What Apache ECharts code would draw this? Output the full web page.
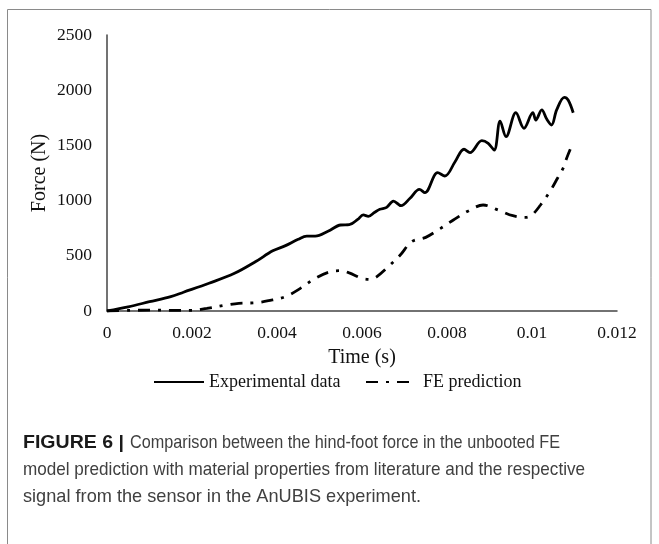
<!DOCTYPE html>
<html>
<head>
<meta charset="utf-8">
<script src="https://cdn.jsdelivr.net/npm/echarts@6/dist/echarts.min.js"></script>
<style>
html,body{margin:0;padding:0;background:#fff;}
#chart{width:659px;height:544px;}
</style>
</head>
<body>
<div id="chart"></div>
<script>
// Experimental data (solid)
var expTime = [0, 0.0005, 0.001, 0.0015, 0.0018, 0.0024, 0.003, 0.0035, 0.0039, 0.0042, 0.0045, 0.0047, 0.0049, 0.0052, 0.0055, 0.0057, 0.0059, 0.00603, 0.00615, 0.0063, 0.00642, 0.00658, 0.00674, 0.00692, 0.00713, 0.00735, 0.00748, 0.00778, 0.00795, 0.00819, 0.0084, 0.00854, 0.00882, 0.00897, 0.00911, 0.00925, 0.00939, 0.00962, 0.00981, 0.01002, 0.01009, 0.01023, 0.01035, 0.01046, 0.01058, 0.01076, 0.01085, 0.01097];
var expForce = [0, 38, 84, 130, 170, 251, 341, 448, 545, 592, 650, 679, 679, 722, 779, 782, 830, 870, 858, 895, 921, 939, 996, 954, 1021, 1102, 1072, 1253, 1223, 1352, 1465, 1434, 1543, 1519, 1458, 1720, 1579, 1796, 1655, 1796, 1730, 1821, 1736, 1685, 1821, 1935, 1911, 1796];
// FE prediction (dash-dot)
var feTime = [0, 0.0005, 0.001, 0.0015, 0.002, 0.00235, 0.0028, 0.0031, 0.0035, 0.0038, 0.0042, 0.00455, 0.0049, 0.00525, 0.0055, 0.0057, 0.006, 0.0062, 0.00635, 0.00666, 0.0069, 0.00717, 0.0075, 0.00785, 0.00815, 0.0085, 0.00885, 0.0092, 0.00955, 0.00985, 0.01, 0.0102, 0.01042, 0.0106, 0.01075, 0.0108, 0.0109];
var feForce = [0, 5, 8, 6, 5, 24, 54, 70, 75, 93, 130, 205, 296, 356, 365, 345, 296, 287, 311, 417, 507, 628, 667, 749, 824, 906, 960, 915, 863, 848, 870, 960, 1081, 1202, 1307, 1368, 1465];
var seriesNames = ['Experimental data', 'FE prediction'];
var captionLabel = 'FIGURE 6 |';
var captionLines = [
  'Comparison between the hind-foot force in the unbooted FE',
  'model prediction with material properties from literature and the respective',
  'signal from the sensor in the AnUBIS experiment.'
];

function pairs(xs, ys) { return xs.map(function (x, i) { return [x, ys[i]]; }); }

var serif = '"Liberation Serif", "Times New Roman", serif';
var sans = '"Liberation Sans", Arial, sans-serif';

// fit caption text widths to the reference layout
var ctx = document.createElement('canvas').getContext('2d');
function fitScale(text, font, target) {
  ctx.font = font;
  return target / ctx.measureText(text).width;
}
var capFont = '19px ' + sans;
var capBoldFont = 'bold 19px ' + sans;
var capLayout = [
  {x: 130, y: 443, w: 430},
  {x: 23, y: 470, w: 562},
  {x: 23, y: 497, w: 398}
];
var captionGraphics = captionLines.map(function (t, i) {
  var L = capLayout[i];
  return {
    type: 'text', x: L.x, y: L.y, scaleX: fitScale(t, capFont, L.w),
    style: {text: t, font: capFont, fill: '#404040', verticalAlign: 'middle'}
  };
});
captionGraphics.push({
  type: 'text', x: 23, y: 443, scaleX: fitScale(captionLabel, capBoldFont, 101),
  style: {text: captionLabel, font: capBoldFont, fill: '#1a1a1a', verticalAlign: 'middle'}
});

var chart = echarts.init(document.getElementById('chart'), null, {renderer: 'canvas'});
chart.setOption({
  backgroundColor: '#fff',
  animation: false,
  graphic: [{
    type: 'rect',
    shape: {x: 7.5, y: 9.5, width: 643.5, height: 600},
    style: {fill: 'none', stroke: '#8a8a8a', lineWidth: 1}
  }].concat(captionGraphics),
  legend: [{
    top: 373, left: 153, padding: 0,
    itemWidth: 50, itemHeight: 12,
    data: [seriesNames[0]],
    itemStyle: {color: 'rgba(0,0,0,0)', borderWidth: 0, opacity: 0},
    textStyle: {fontFamily: serif, fontSize: 18, color: '#111'}
  }, {
    top: 373, left: 365, padding: 0,
    itemWidth: 43, itemHeight: 12,
    data: [seriesNames[1]],
    itemStyle: {color: 'rgba(0,0,0,0)', borderWidth: 0, opacity: 0},
    textStyle: {fontFamily: serif, fontSize: 18, color: '#111', padding: [0, 0, 0, 9]}
  }],
  grid: {left: 107, right: 42, top: 35, bottom: 233, containLabel: false},
  xAxis: {
    type: 'value', min: 0, max: 0.012, interval: 0.002,
    name: 'Time (s)', nameLocation: 'middle', nameGap: 37, nameMoveOverlap: false,
    nameTextStyle: {fontFamily: serif, fontSize: 20, color: '#111'},
    axisLine: {lineStyle: {color: '#444', width: 1.5}},
    axisTick: {show: false},
    splitLine: {show: false},
    axisLabel: {fontFamily: serif, fontSize: 17.5, color: '#111', margin: 13,
      formatter: function (v) { return String(+v.toFixed(3)); }}
  },
  yAxis: {
    type: 'value', min: 0, max: 2500, interval: 500,
    name: 'Force (N)', nameLocation: 'middle', nameGap: 57, nameMoveOverlap: false,
    nameTextStyle: {fontFamily: serif, fontSize: 20, color: '#111'},
    axisLine: {show: true, lineStyle: {color: '#444', width: 1.5}},
    axisTick: {show: false},
    splitLine: {show: false},
    axisLabel: {fontFamily: serif, fontSize: 17.5, color: '#111', margin: 15,
      formatter: function (v) { return String(v); }}
  },
  series: [{
    name: seriesNames[0], type: 'line', data: pairs(expTime, expForce),
    symbol: 'none', smooth: 0.35,
    lineStyle: {color: '#000', width: 2.8, type: 'solid'},
    itemStyle: {color: '#000'}
  }, {
    name: seriesNames[1], type: 'line', data: pairs(feTime, feForce),
    symbol: 'none', smooth: 0.35,
    lineStyle: {color: '#000', width: 2.8, type: [12, 8, 3, 8]},
    itemStyle: {color: '#000'}
  }]
});
</script>
</body>
</html>
